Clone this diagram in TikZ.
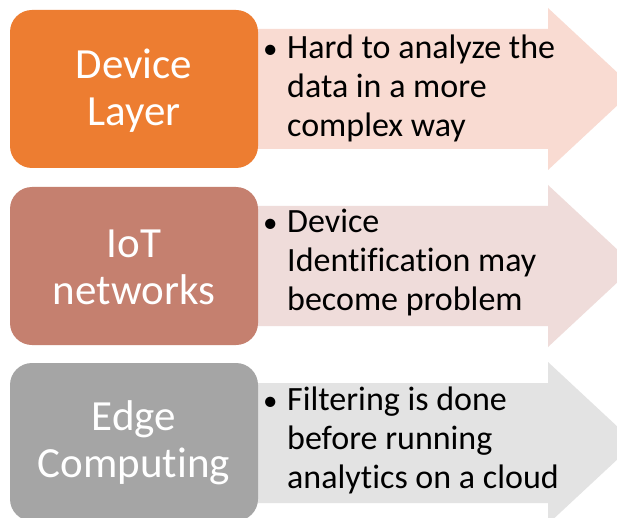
\documentclass[tikz,border=0pt]{standalone}
\usepackage{fontspec}
\setmainfont{Carlito}[Ligatures=NoCommon]
\definecolor{boxA}{HTML}{ED7D31}
\definecolor{boxB}{HTML}{C5806F}
\definecolor{boxC}{HTML}{A5A5A5}
\definecolor{arrA}{HTML}{F9DBD2}
\definecolor{arrB}{HTML}{EFDCDA}
\definecolor{arrC}{HTML}{E3E3E3}
\newcommand{\arrowshape}[2]{%
  \fill[#2] (200,#1-60) -- (548,#1-60) -- (548,#1-81) -- (635,#1) -- (548,#1+81) -- (548,#1+60) -- (200,#1+60) -- cycle;}
\newcommand{\bul}{\makebox[25pt][l]{\hspace*{1pt}{\fontsize{29}{29}\selectfont\textbullet}}}
\newcommand{\ind}{\hspace*{25pt}}
\begin{document}
\begin{tikzpicture}[x=1pt,y=-1pt,
  layerbox/.style={rounded corners=22pt, minimum width=248pt, minimum height=158pt,
    inner sep=0pt, align=center, text=white, font=\fontsize{43}{47}\selectfont},
  pointtext/.style={anchor=west, inner sep=0pt, align=left, text=black,
    font=\fontsize{34}{39}\selectfont}]
\useasboundingbox (0,0) rectangle (617,518);
\fill[white] (0,0) rectangle (617,518);
\begin{scope}
\clip (0,0) rectangle (617,518);
\arrowshape{89}{arrA}
\arrowshape{266}{arrB}
\arrowshape{443}{arrC}
\node[layerbox, fill=boxA] (b1) at (134,89) {};
\node[layerbox, fill=boxB] (b2) at (134,266) {};
\node[layerbox, fill=boxC] (b3) at (134,442) {};
\node[layerbox, fill=none, minimum height=0pt] (l1) at (134,91) {Device\\Layer};
\node[layerbox, fill=none, minimum height=0pt] (l2) at (134,267) {IoT\\networks};
\node[layerbox, fill=none, minimum height=0pt] (l3) at (134,443) {Edge\\Computing};
\node[pointtext] (t1) at (262,88) {\bul Hard to analyze the\\\ind data in a more\\\ind complex way};
\node[pointtext] (t2) at (262,263) {\bul Device\\\ind Identification may\\\ind become problem};
\node[pointtext] (t3) at (262,440) {\bul Filtering is done\\\ind before running\\\ind analytics on a cloud};
\end{scope}
\end{tikzpicture}
\end{document}
